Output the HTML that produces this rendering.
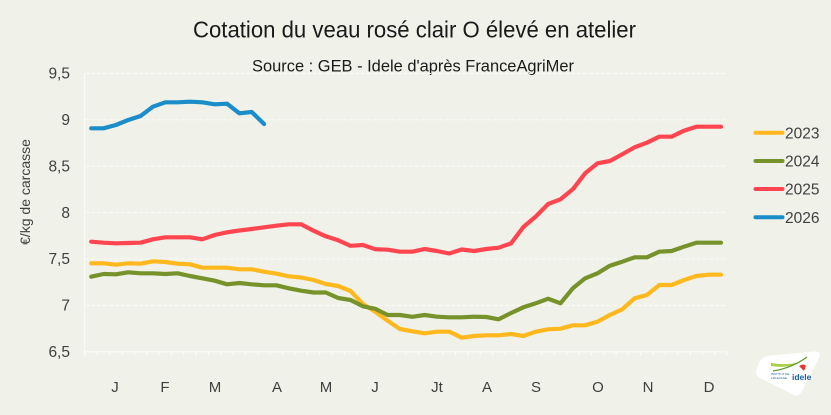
<!DOCTYPE html>
<html><head><meta charset="utf-8"><style>
html,body{margin:0;padding:0;background:#f0f1e9;}
svg{display:block;}
</style></head><body>
<svg width="831" height="415" viewBox="0 0 831 415" xmlns="http://www.w3.org/2000/svg">
<rect width="831" height="415" fill="#f0f1e9"/>
<text x="193" y="37.5" font-family="'Liberation Sans Narrow','Liberation Sans',sans-serif" font-size="23" fill="#1a1a1a" textLength="443" lengthAdjust="spacingAndGlyphs">Cotation du veau rosé clair O élevé en atelier</text>
<text x="252" y="71.7" font-family="'Liberation Sans Narrow','Liberation Sans',sans-serif" font-size="17" fill="#1a1a1a" textLength="322" lengthAdjust="spacingAndGlyphs">Source : GEB - Idele d'après FranceAgriMer</text>
<g stroke="#fbfbf6" stroke-width="1" stroke-dasharray="4,2">
<line x1="85" y1="73.4" x2="727" y2="73.4"/>
<line x1="85" y1="119.8" x2="727" y2="119.8"/>
<line x1="85" y1="166.2" x2="727" y2="166.2"/>
<line x1="85" y1="212.6" x2="727" y2="212.6"/>
<line x1="85" y1="259" x2="727" y2="259"/>
<line x1="85" y1="305.4" x2="727" y2="305.4"/>
</g>
<g stroke="#fbfbf6" stroke-width="1.2">
<line x1="84.5" y1="73" x2="84.5" y2="356"/>
<line x1="85" y1="351.8" x2="727" y2="351.8"/>
<path d="M85 352v4M97.35 352v4M109.7 352v4M122.05 352v4M134.4 352v4M146.75 352v4M159.1 352v4M171.45 352v4M183.8 352v4M196.15 352v4M208.5 352v4M220.85 352v4M233.2 352v4M245.55 352v4M257.9 352v4M270.25 352v4M282.6 352v4M294.95 352v4M307.3 352v4M319.65 352v4M332 352v4M344.35 352v4M356.7 352v4M369.05 352v4M381.4 352v4M393.75 352v4M406.1 352v4M418.45 352v4M430.8 352v4M443.15 352v4M455.5 352v4M467.85 352v4M480.2 352v4M492.55 352v4M504.9 352v4M517.25 352v4M529.6 352v4M541.95 352v4M554.3 352v4M566.65 352v4M579 352v4M591.35 352v4M603.7 352v4M616.05 352v4M628.4 352v4M640.75 352v4M653.1 352v4M665.45 352v4M677.8 352v4M690.15 352v4M702.5 352v4M714.85 352v4M727.2 352v4"/>
</g>
<g font-family="'Liberation Sans',sans-serif" font-size="15.5" fill="#404040" text-anchor="end">
<text x="70" y="78.6">9,5</text>
<text x="70" y="125">9</text>
<text x="70" y="171.4">8,5</text>
<text x="70" y="217.8">8</text>
<text x="70" y="264.2">7,5</text>
<text x="70" y="310.6">7</text>
<text x="70" y="357">6,5</text>
</g>
<text transform="translate(30,192) rotate(-90)" font-family="'Liberation Sans',sans-serif" font-size="14" fill="#404040" text-anchor="middle">€/kg de carcasse</text>
<g font-family="'Liberation Sans',sans-serif" font-size="15" fill="#404040" text-anchor="middle">
<text x="115" y="392">J</text>
<text x="165" y="392">F</text>
<text x="215" y="392">M</text>
<text x="277" y="392">A</text>
<text x="326" y="392">M</text>
<text x="375" y="392">J</text>
<text x="437" y="392">Jt</text>
<text x="487" y="392">A</text>
<text x="536" y="392">S</text>
<text x="598" y="392">O</text>
<text x="648" y="392">N</text>
<text x="709" y="392">D</text>
</g>
<g fill="none" stroke-width="4.2" stroke-linejoin="round" stroke-linecap="round">
<polyline stroke="#ffb81d" points="91.2,263.3 103.5,263.3 115.9,264.7 128.2,263.3 140.6,263.7 152.9,261.3 165.3,262 177.6,263.7 190,264.3 202.3,267.7 214.7,267.7 227,267.7 239.4,269.3 251.7,269.3 264.1,271.7 276.4,273.7 288.8,276.3 301.1,277.5 313.5,280 325.8,284 338.2,286 350.5,291 362.9,304 375.2,311.7 387.6,320.7 399.9,329 412.3,331.3 424.6,333.3 437,331.7 449.3,331.7 461.7,337.7 474,336 486.4,335.3 498.7,335.3 511.1,334 523.4,336 535.8,331.7 548.1,329.3 560.5,328.7 572.8,325.3 585.2,325.3 597.5,321.7 609.9,315 622.2,309.3 634.6,298.3 646.9,295 659.3,285 671.6,285 684,280 696.3,276 708.7,274.7 721,274.7"/>
<polyline stroke="#77922b" points="91.2,276.7 103.5,274 115.9,274.3 128.2,272.3 140.6,273.3 152.9,273.3 165.3,274 177.6,273.3 190,276 202.3,278.3 214.7,280.7 227,284.3 239.4,283 251.7,284.3 264.1,285.3 276.4,285.3 288.8,288.3 301.1,290.7 313.5,292.5 325.8,292.5 338.2,298 350.5,300 362.9,306.3 375.2,308.8 387.6,315 399.9,315 412.3,316.8 424.6,315 437,316.7 449.3,317.3 461.7,317.3 474,316.7 486.4,317 498.7,319.3 511.1,313 523.4,307.3 535.8,303.3 548.1,298.7 560.5,303.3 572.8,288.3 585.2,278.3 597.5,273.3 609.9,265.7 622.2,261.7 634.6,257.3 646.9,257.3 659.3,251.7 671.6,251 684,246.7 696.3,242.7 708.7,242.7 721,242.7"/>
<polyline stroke="#ff4650" points="91.2,241.7 103.5,242.7 115.9,243.3 128.2,243 140.6,242.7 152.9,239.3 165.3,237.3 177.6,237.3 190,237.3 202.3,239.3 214.7,235 227,232.3 239.4,230.5 251.7,229 264.1,227.3 276.4,225.7 288.8,224.3 301.1,224.3 313.5,230.7 325.8,236.3 338.2,240.3 350.5,245.8 362.9,245 375.2,249.2 387.6,249.7 399.9,251.7 412.3,251.7 424.6,249 437,251 449.3,253.5 461.7,249.5 474,251 486.4,249 498.7,247.7 511.1,243.3 523.4,227 535.8,216.5 548.1,204 560.5,199.3 572.8,189.3 585.2,173.3 597.5,163.3 609.9,161 622.2,154.3 634.6,147.3 646.9,142.7 659.3,136.7 671.6,136.7 684,130.7 696.3,126.7 708.7,126.7 721,126.7"/>
<polyline stroke="#1b8dc9" points="91.2,128.3 103.5,128.3 115.9,125 128.2,120 140.6,116 152.9,106.7 165.3,102.3 177.6,102.3 190,101.7 202.3,102.3 214.7,104.3 227,103.7 239.4,113.3 251.7,112 264.1,124"/>
</g>
<g stroke-width="4" stroke-linecap="round">
<line x1="755.5" y1="132.7" x2="782.5" y2="132.7" stroke="#ffb81d"/>
<line x1="755.5" y1="161" x2="782.5" y2="161" stroke="#77922b"/>
<line x1="755.5" y1="189" x2="782.5" y2="189" stroke="#ff4650"/>
<line x1="755.5" y1="217.3" x2="782.5" y2="217.3" stroke="#1b8dc9"/>
</g>
<g font-family="'Liberation Sans',sans-serif" font-size="15.5" fill="#404040">
<text x="785" y="138.3">2023</text>
<text x="785" y="166.6">2024</text>
<text x="785" y="194.6">2025</text>
<text x="785" y="222.9">2026</text>
</g>
<path d="M757 368 Q754 374 760 378 L792 394 Q799 398 802 391 L819 358 Q822 351 814 351.5 L767 356 Q760 358 757 368 Z" fill="#ffffff"/>
<path d="M771 363 Q790 366 802 361 Q790 369 771 366 Z" fill="#a8cf45"/>
<path d="M773 371 Q792 368 807 357" stroke="#5f9a2c" stroke-width="1.2" fill="none"/>
<path d="M799 366 q5 -3 7 0 l-2 5 z" fill="#e53935"/>
<text x="771" y="375" font-family="'Liberation Sans',sans-serif" font-size="3" fill="#1b5fa8">INSTITUT DE</text>
<text x="771" y="379" font-family="'Liberation Sans',sans-serif" font-size="3" fill="#1b5fa8">L'ÉLEVAGE</text>
<text x="792" y="380" font-family="'Liberation Sans',sans-serif" font-size="8.5" font-weight="bold" fill="#1b5fa8">idele</text>
</svg>
</body></html>
